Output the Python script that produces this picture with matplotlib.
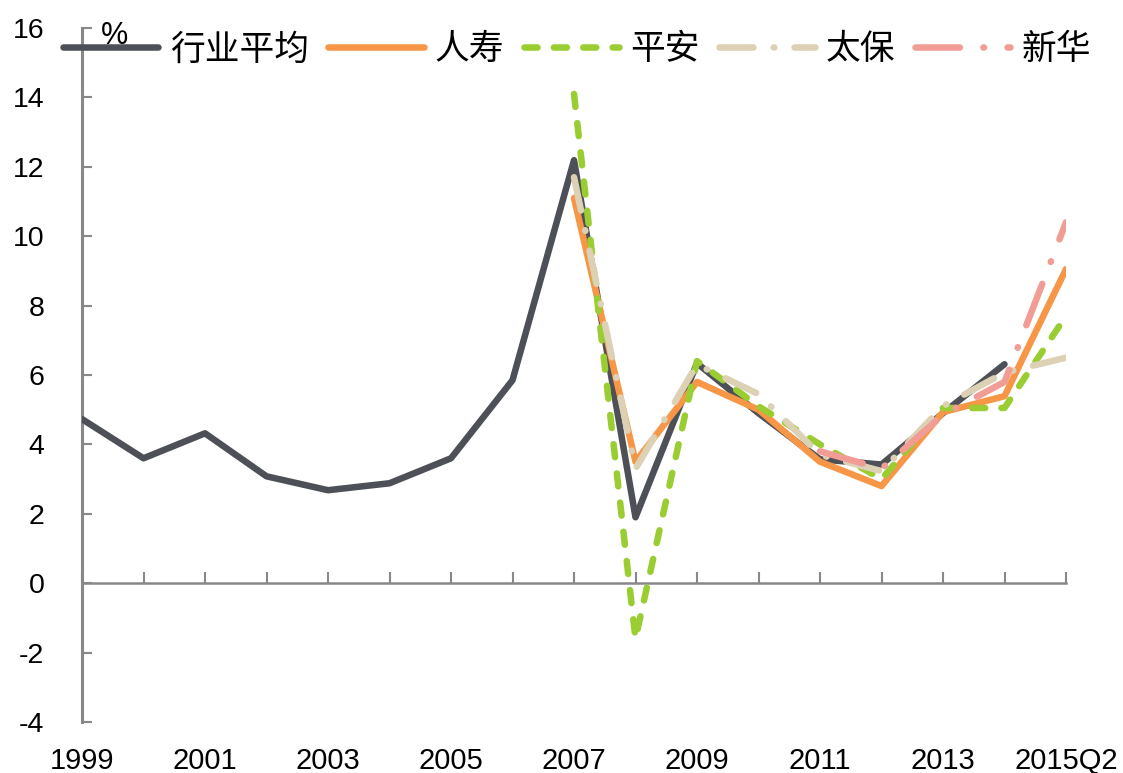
import matplotlib
matplotlib.use("Agg")
import matplotlib.pyplot as plt
import numpy as np

categories = ["1999", "2000", "2001", "2002", "2003", "2004", "2005", "2006", "2007",
              "2008", "2009", "2010", "2011", "2012", "2013", "2014", "2015Q2"]
tick_labels = ["1999", "2001", "2003", "2005", "2007", "2009", "2011", "2013", "2015Q2"]

industry_avg = [4.73, 3.6, 4.32, 3.08, 2.68, 2.88, 3.6, 5.85, 12.19, 1.9, 6.34, 4.9, 3.57, 3.42, 4.9, 6.31, None]
renshou = [None]*8 + [11.1, 3.5, 5.8, 5.0, 3.5, 2.8, 4.93, 5.39, 9.05]
pingan = [None]*8 + [14.1, -1.6, 6.4, 5.1, 4.0, 3.0, 5.05, 5.05, 7.7]
taibao = [None]*8 + [11.7, 3.3, 6.3, 5.45, 3.7, 3.23, 5.1, 6.07, 6.5]
xinhua = [None]*12 + [3.8, 3.3, 4.85, 5.8, 10.4]

def arr(v):
    return np.array([np.nan if x is None else x for x in v], dtype=float)

plt.rcParams['font.family'] = ['Liberation Sans', 'Noto Sans CJK SC', 'DejaVu Sans']
plt.rcParams['axes.unicode_minus'] = False

fig = plt.figure(figsize=(11.23, 7.73), dpi=100)
ax = fig.add_axes([82/1123, 1-722/773, (1066-82)/1123, (722-28)/773])

x = np.arange(len(categories))
lw = 4.7
common = dict(lw=lw, solid_capstyle='round', solid_joinstyle='round', dash_capstyle='round')
l1, = ax.plot(x, arr(industry_avg), color="#4d5157", zorder=3, label="行业平均", **common)
l2, = ax.plot(x, arr(renshou), color="#f79646", zorder=4, label="人寿", **common)
l3, = ax.plot(x, arr(pingan), color="#9acd32", dashes=(2.0, 2.5), zorder=5, label="平安", **common)
l4, = ax.plot(x, arr(taibao), color="#ddd1b5", dashes=(5.2, 3.1, 0.1, 3.1), zorder=6, label="太保", **common)
l5, = ax.plot(x, arr(xinhua), color="#f19c95", dashes=(6.8, 3.6, 0.1, 3.6), zorder=7, label="新华", **common)

ax.set_xlim(0, len(categories)-1)
ax.set_ylim(-4, 16)
ax.set_yticks(np.arange(-4, 17, 2))
ax.tick_params(axis='y', direction='in', length=7, width=1.5, color='#888888', pad=27, labelsize=20.5)
ax.set_xticks(x)
ax.tick_params(axis='x', direction='in', length=8, width=1.5, color='#888888', labelbottom=False)

for s in ['top', 'right']:
    ax.spines[s].set_visible(False)
ax.spines['left'].set_color('#888888')
ax.spines['left'].set_linewidth(2.2)
ax.spines['bottom'].set_position(('data', 0))
ax.spines['bottom'].set_color('#888888')
ax.spines['bottom'].set_linewidth(1.8)

sec = ax.secondary_xaxis('bottom')
sec.spines['bottom'].set_visible(False)
sec.set_xticks([categories.index(t) for t in tick_labels])
sec.set_xticklabels(tick_labels, fontsize=21)
sec.tick_params(axis='x', length=0, pad=18)

ax.text(114/1123, 1-36/773, "%", transform=fig.transFigure, fontsize=22, ha='center', va='center', zorder=1)

leg = fig.legend(handles=[l1, l2, l3, l4, l5], loc='center left', bbox_to_anchor=(63/1123, 1-50/773),
                 ncol=5, frameon=False, handlelength=2.75, handletextpad=0.33, columnspacing=0.55,
                 borderaxespad=0, borderpad=0,
                 prop={'family': ['Noto Sans CJK SC'], 'size': 25})

fig.savefig("out.png", dpi=100)
